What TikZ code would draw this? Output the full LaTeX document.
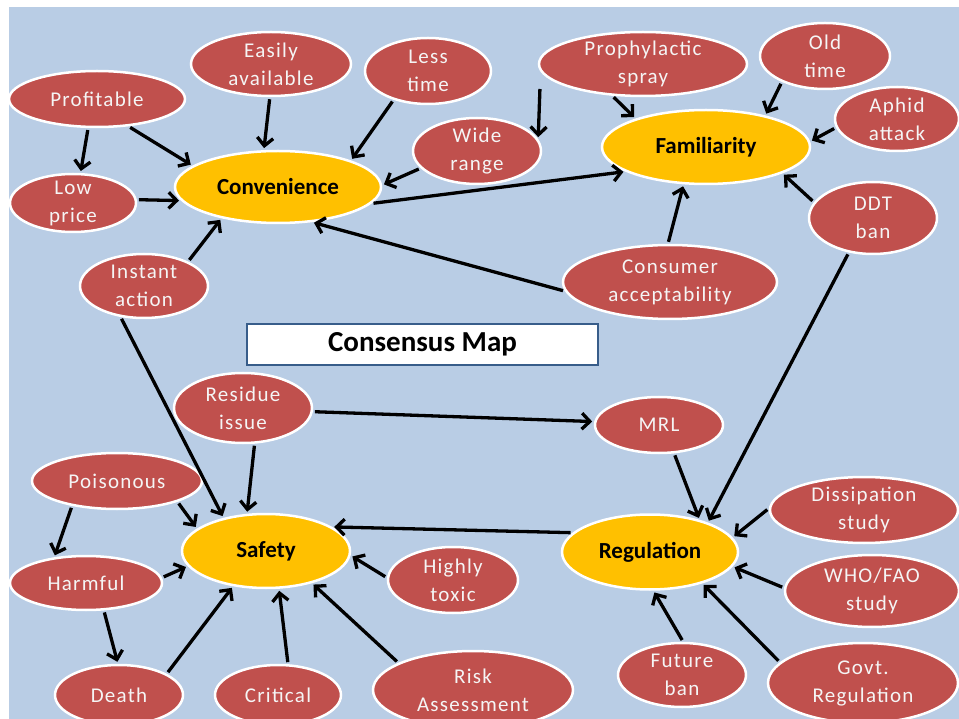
\documentclass[tikz,border=0pt]{standalone}
\usepackage{fontspec}
\setmainfont{Carlito}
\newfontfamily\lblfont[LetterSpace=6]{Carlito}
\usetikzlibrary{arrows.meta,shapes.geometric}
\definecolor{bgblue}{RGB}{185,205,229}
\definecolor{nodered}{RGB}{192,80,77}
\definecolor{nodeyellow}{RGB}{255,192,0}
\definecolor{txtwhite}{RGB}{245,245,245}
\definecolor{boxedge}{RGB}{56,93,138}
\begin{document}
\begin{tikzpicture}[x=1pt,y=-1pt,
  sz/.style 2 args={minimum width=#1pt,minimum height=#2pt},
  sub/.style={ellipse,fill=nodered,draw=white,line width=2.5pt,inner xsep=0pt,inner ysep=-12pt,
    text=txtwhite,align=center,font=\lblfont\fontsize{21}{28}\selectfont},
  core/.style={ellipse,fill=nodeyellow,draw=white,line width=2.5pt,inner xsep=0pt,inner ysep=-12pt,
    text=black,font=\bfseries\fontsize{23}{28}\selectfont},
  titlebox/.style={rectangle,fill=white,draw=boxedge,line width=1.5pt,
    font=\bfseries\fontsize{29}{32}\selectfont},
  link/.style={draw=black,line width=3.3pt,shorten >=2pt,shorten <=2pt,
    -{Straight Barb[length=8pt,width=16pt]}}]
\useasboundingbox (0,0) rectangle (959,719);
\clip (0,0) rectangle (959,719);
\fill[white] (0,0) rectangle (959,719);
\fill[bgblue] (9,7) rectangle (959,719);

% core nodes
\node[core,sz={206}{72}] (conv) at (278,187) {Convenience};
\node[core,sz={208}{74}] (fam) at (706,147) {Familiarity};
\node[core,sz={168}{74}] (saf) at (266,551) {Safety};
\node[core,sz={176}{75}] (reg) at (650,552) {Regulation};

% sub nodes
\node[sub,sz={176}{56}] (prof) at (97,99) {Profitable};
\node[sub,sz={160}{64}] (easy) at (271,64) {Easily\\available};
\node[sub,sz={126}{66}] (less) at (428,71) {Less\\time};
\node[sub,sz={128}{66}] (wide) at (477,151) {Wide\\range};
\node[sub,sz={126}{58}] (low) at (73,203) {Low\\price};
\node[sub,sz={128}{64}] (inst) at (144,286) {Instant\\action};
\node[sub,sz={208}{64}] (pro) at (643,64) {Prophylactic\\spray};
\node[sub,sz={130}{66}] (old) at (825,56) {Old\\time};
\node[sub,sz={124}{64}] (aph) at (897,119) {Aphid\\attack};
\node[sub,sz={128}{72}] (ddt) at (873,218) {DDT\\ban};
\node[sub,sz={214}{74}] (cons) at (670,282) {Consumer\\acceptability};
\node[sub,sz={138}{70}] (res) at (243,408) {Residue\\issue};
\node[sub,sz={170}{56}] (poi) at (117,481) {Poisonous};
\node[sub,sz={152}{54}] (harm) at (86,583) {Harmful};
\node[sub,sz={128}{60}] (death) at (119,695) {Death};
\node[sub,sz={126}{60}] (crit) at (278,695) {Critical};
\node[sub,sz={200}{78}] (risk) at (473,690) {Risk\\Assessment};
\node[sub,sz={130}{66}] (high) at (453,580) {Highly\\toxic};
\node[sub,sz={128}{56}] (mrl) at (659,425) {MRL};
\node[sub,sz={188}{66}] (diss) at (864,510) {Dissipation\\study};
\node[sub,sz={174}{72}] (who) at (872,591) {WHO/FAO\\study};
\node[sub,sz={128}{64}] (fut) at (682,675) {Future\\ban};
\node[sub,sz={190}{80}] (govt) at (863,683) {Govt.\\Regulation};

\node[titlebox,minimum width=351pt,minimum height=41pt] (title) at (422.5,344.5) {Consensus Map};

\coordinate (free) at (540,87);

% connectors
\draw[link] (prof.-107) -- (low.76);
\draw[link] (prof.-41) -- (conv.166);
\draw[link] (easy.-92) -- (conv.111);
\draw[link] (less.-140) -- (conv.20);
\draw[link] (wide.197) -- (conv.1);
\draw[link] (low.3) -- (conv.188);
\draw[link] (inst.29) -- (conv.209);
\draw[link] (conv.-10) -- (fam.197);
\draw[link] (cons.185) -- (conv.-46);
\draw[link] (free) -- (wide.11);
\draw[link] (pro.-134) -- (fam.158);
\draw[link] (old.-149) -- (fam.28);
\draw[link] (aph.188) -- (fam.3);
\draw[link] (ddt.165) -- (fam.-19);
\draw[link] (cons.93) -- (fam.-121);
\draw[link] (ddt.-125) -- (reg.27);
\draw[link] (inst.-127) -- (saf.142);
\draw[link] (res.-72) -- (saf.117);
\draw[link] (res.-3) -- (mrl.177);
\draw[link] (mrl.-62) -- (reg.33);
\draw[link] (reg.166) -- (saf.20);
\draw[link] (poi.-19) -- (saf.162);
\draw[link] (poi.-151) -- (harm.141);
\draw[link] (harm.4) -- (saf.191);
\draw[link] (harm.-57) -- (death.92);
\draw[link] (death.24) -- (saf.-133);
\draw[link] (crit.72) -- (saf.-71);
\draw[link] (risk.160) -- (saf.-35);
\draw[link] (high.178) -- (saf.-3);
\draw[link] (diss.179) -- (reg.10);
\draw[link] (who.178) -- (reg.-10);
\draw[link] (govt.166) -- (reg.-31);
\draw[link] (fut.88) -- (reg.-85);
\end{tikzpicture}
\end{document}
